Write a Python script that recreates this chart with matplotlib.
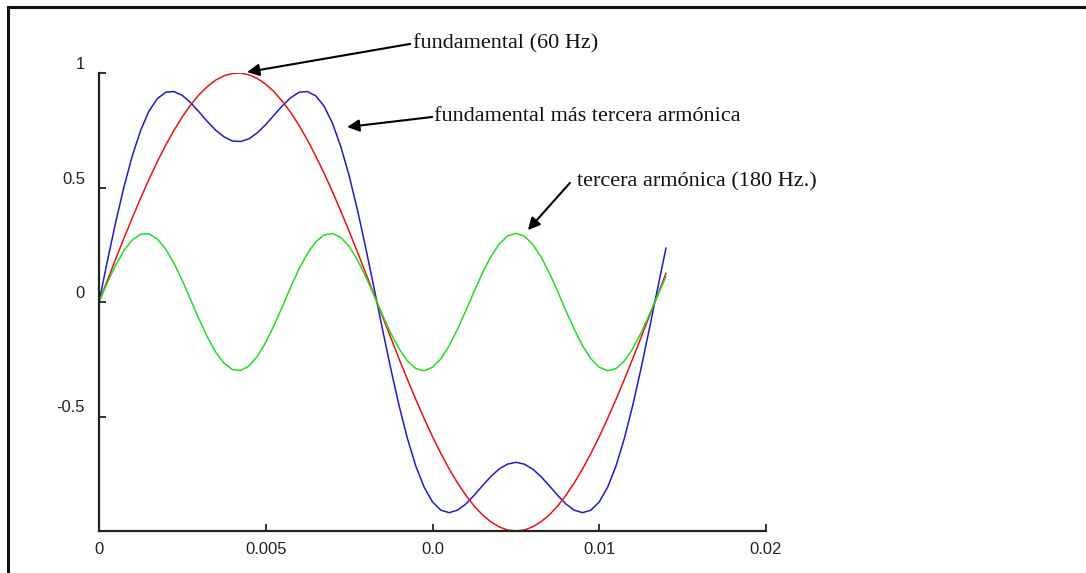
"""Fundamental 60 Hz, third harmonic and their sum"""
import numpy as np
import matplotlib.pyplot as plt
from matplotlib.lines import Line2D
from matplotlib.transforms import ScaledTranslation

# sample times (ms)
t_ms = [0.00, 0.25, 0.50, 0.75, 1.00, 1.25, 1.50, 1.75, 2.00, 2.25,
        2.50, 2.75, 3.00, 3.25, 3.50, 3.75, 4.00, 4.25, 4.50, 4.75,
        5.00, 5.25, 5.50, 5.75, 6.00, 6.25, 6.50, 6.75, 7.00, 7.25,
        7.50, 7.75, 8.00, 8.25, 8.50, 8.75, 9.00, 9.25, 9.50, 9.75,
        10.00, 10.25, 10.50, 10.75, 11.00, 11.25, 11.50, 11.75, 12.00, 12.25,
        12.50, 12.75, 13.00, 13.25, 13.50, 13.75, 14.00, 14.25, 14.50, 14.75,
        15.00, 15.25, 15.50, 15.75, 16.00, 16.25, 16.50, 16.75, 17.00]

# fundamental (60 Hz), red
fundamental = [0.000, 0.094, 0.187, 0.279, 0.368, 0.454, 0.536, 0.613, 0.685, 0.750,
               0.809, 0.861, 0.905, 0.941, 0.969, 0.988, 0.998, 1.000, 0.992, 0.976,
               0.951, 0.918, 0.876, 0.827, 0.771, 0.707, 0.637, 0.562, 0.482, 0.397,
               0.309, 0.218, 0.125, 0.031, -0.063, -0.156, -0.249, -0.339, -0.426, -0.509,
               -0.588, -0.661, -0.729, -0.790, -0.844, -0.891, -0.930, -0.960, -0.982, -0.996,
               -1.000, -0.996, -0.982, -0.960, -0.930, -0.891, -0.844, -0.790, -0.729, -0.661,
               -0.588, -0.509, -0.426, -0.339, -0.249, -0.156, -0.063, 0.031, 0.125]

# third harmonic (180 Hz), green
third = [0.000, 0.084, 0.161, 0.225, 0.271, 0.296, 0.298, 0.275, 0.231, 0.169,
         0.093, 0.009, -0.075, -0.153, -0.219, -0.267, -0.295, -0.299, -0.279, -0.237,
         -0.176, -0.102, -0.019, 0.065, 0.145, 0.212, 0.263, 0.293, 0.299, 0.282,
         0.243, 0.184, 0.110, 0.028, -0.056, -0.136, -0.205, -0.258, -0.291, -0.300,
         -0.285, -0.248, -0.191, -0.119, -0.038, 0.047, 0.128, 0.198, 0.253, 0.288,
         0.300, 0.288, 0.253, 0.198, 0.128, 0.047, -0.038, -0.119, -0.191, -0.248,
         -0.285, -0.300, -0.291, -0.258, -0.205, -0.136, -0.056, 0.028, 0.110]

# fundamental plus third harmonic, blue
combined = [0.000, 0.178, 0.348, 0.504, 0.639, 0.750, 0.834, 0.888, 0.916, 0.919,
            0.902, 0.870, 0.830, 0.788, 0.750, 0.721, 0.703, 0.701, 0.713, 0.739,
            0.775, 0.816, 0.857, 0.892, 0.916, 0.919, 0.900, 0.855, 0.781, 0.679,
            0.552, 0.402, 0.235, 0.059, -0.119, -0.292, -0.454, -0.597, -0.717, -0.809,
            -0.873, -0.909, -0.920, -0.909, -0.882, -0.844, -0.802, -0.762, -0.729, -0.708,
            -0.700, -0.708, -0.729, -0.762, -0.802, -0.844, -0.882, -0.909, -0.920, -0.909,
            -0.873, -0.809, -0.717, -0.597, -0.454, -0.292, -0.119, 0.059, 0.235]

x_ticks = [0, 0.005, 0.01, 0.015, 0.02]
x_tick_labels = ['0', '0.005', '0.0', '0.01', '0.02']
y_ticks = [1, 0.5, 0, -0.5]
y_tick_labels = ['1', '0.5', '0', '-0.5']

t = np.array(t_ms) / 1000.0

fig = plt.figure(figsize=(10.86, 5.73), dpi=100)
ax = fig.add_axes([99 / 1086, 42 / 573, 667 / 1086, 458 / 573])

ax.plot(t, combined, color='#1c1cd0', lw=1.1)
ax.plot(t, fundamental, color='#ee1111', lw=1.1)
ax.plot(t, third, color='#22dd22', lw=1.1)

ax.set_xlim(0, 0.02)
ax.set_ylim(-1, 1)
for s in ['top', 'right']:
    ax.spines[s].set_visible(False)
for s in ['left', 'bottom']:
    ax.spines[s].set_linewidth(1.6)
    ax.spines[s].set_color('#222222')

ax.set_xticks(x_ticks)
ax.set_xticklabels(x_tick_labels, fontsize=12, family='Liberation Sans', color='#222222')
ax.set_yticks(y_ticks)
ax.set_yticklabels(y_tick_labels, fontsize=12, family='Liberation Sans', color='#222222')
ax.tick_params(direction='in', length=5, width=1.3, color='#222222')
ax.tick_params(axis='x', pad=8)
ax.tick_params(axis='y', pad=10)
for lab in ax.get_yticklabels():
    lab.set_transform(lab.get_transform() + ScaledTranslation(0, 0.1, fig.dpi_scale_trans))

# annotations with arrows
txt_kw = dict(fontsize=16, family='Liberation Serif', color='#111111', va='center', ha='left')
arr_kw = dict(arrowstyle='-|>', color='black', lw=1.5, mutation_scale=18, shrinkA=0, shrinkB=0)

ax.annotate('', xy=(0.00444, 1.004), xytext=(0.00933, 1.127), arrowprops=arr_kw, annotation_clip=False)
ax.text(0.00942, 1.127, 'fundamental (60 Hz)', clip_on=False, **txt_kw)

ax.annotate('', xy=(0.00744, 0.764), xytext=(0.00999, 0.808), arrowprops=arr_kw, annotation_clip=False)
ax.text(0.01004, 0.812, 'fundamental más tercera armónica', clip_on=False, **txt_kw)

ax.annotate('', xy=(0.01286, 0.314), xytext=(0.01412, 0.520), arrowprops=arr_kw, annotation_clip=False)
ax.text(0.01433, 0.524, 'tercera armónica (180 Hz.)', clip_on=False, **txt_kw)

# frame lines of the original picture (top and left only)
fig.add_artist(Line2D([8 / 1086, 1], [1 - 7 / 573, 1 - 7 / 573], color='#111111', lw=2.2))
fig.add_artist(Line2D([8 / 1086, 8 / 1086], [0, 1 - 7 / 573], color='#111111', lw=2.2))

plt.savefig('out.png', dpi=100)
plt.close()
